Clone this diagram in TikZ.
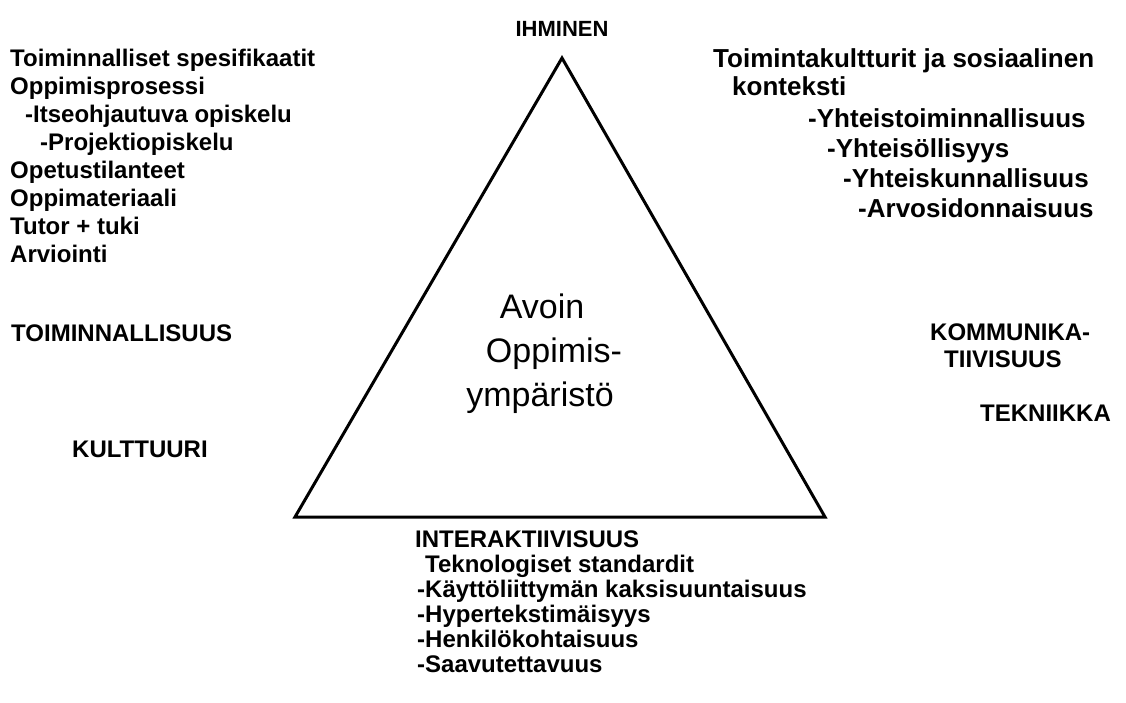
\documentclass[tikz,border=0pt]{standalone}
\usepackage{fontspec}
\setmainfont{Liberation Sans}
\begin{document}
\begin{tikzpicture}[x=1pt, y=-1pt,
  txt/.style={anchor=base west, inner sep=0pt, font=\fontsize{24}{28}\selectfont\bfseries},
  wtxt/.style={txt, font=\fontsize{26}{30}\selectfont\bfseries},
  mid/.style={anchor=base, inner sep=0pt, font=\fontsize{34}{40}\selectfont}]
\useasboundingbox (0,0) rectangle (1126,702);
\coordinate (apex) at (562,58);
\coordinate (bl) at (295,517);
\coordinate (br) at (825,517);
\draw[line width=3pt, line join=miter] (apex) -- (bl) -- (br) -- cycle;
\node[anchor=base, inner sep=0pt, font=\fontsize{22}{26}\selectfont\bfseries] (ihminen) at (562,36){IHMINEN};
\node[txt] (tspec) at (10,66){Toiminnalliset spesifikaatit};
\node[txt] (oprosessi) at (10,94){Oppimisprosessi};
\node[txt] (itseohj) at (25,122){-Itseohjautuva opiskelu};
\node[txt] (projekti) at (40,150){-Projektiopiskelu};
\node[txt] (opetus) at (10,178){Opetustilanteet};
\node[txt] (omateriaali) at (10,206){Oppimateriaali};
\node[txt] (tutor) at (10,234){Tutor + tuki};
\node[txt] (arviointi) at (10,262){Arviointi};
\node[txt] (toiminnall) at (11,341){TOIMINNALLISUUS};
\node[txt] (kulttuuri) at (72,457){KULTTUURI};
\node[wtxt] (tkult) at (713,67){Toimintakultturit ja sosiaalinen};
\node[wtxt] (konteksti) at (732,95){konteksti};
\node[wtxt] (yhtoim) at (808,127){-Yhteistoiminnallisuus};
\node[wtxt] (yhtsoll) at (827,157){-Yhteisöllisyys};
\node[wtxt] (yhtkunn) at (843,187){-Yhteiskunnallisuus};
\node[wtxt] (arvosid) at (858,217){-Arvosidonnaisuus};
\node[txt] (kommunika) at (930,340){KOMMUNIKA-};
\node[txt] (tiivisuus) at (944,367){TIIVISUUS};
\node[txt] (tekniikka) at (980,421){TEKNIIKKA};
\node[mid] (avoin) at (542,318){Avoin};
\node[mid] (oppimis) at (554,362){Oppimis-};
\node[mid] (ymparisto) at (540,406){ympäristö};
\node[txt] (interakt) at (415,547){INTERAKTIIVISUUS};
\node[txt] (tstandardit) at (425,572){Teknologiset standardit};
\node[txt] (kayttoli) at (417,597){-Käyttöliittymän kaksisuuntaisuus};
\node[txt] (hyperteksti) at (417,622){-Hypertekstimäisyys};
\node[txt] (henkilo) at (417,647){-Henkilökohtaisuus};
\node[txt] (saavutett) at (417,672){-Saavutettavuus};
\end{tikzpicture}
\end{document}
